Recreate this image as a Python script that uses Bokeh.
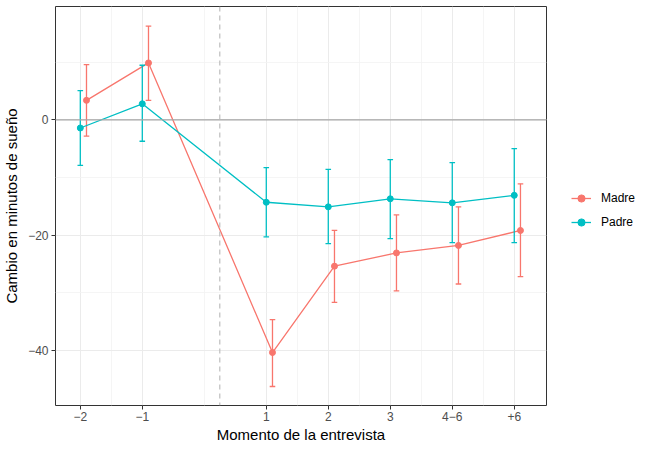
from bokeh.plotting import figure
from bokeh.models import FixedTicker, Legend, LegendItem, Span, Range1d, ColumnDataSource
from bokeh.embed import file_html
from bokeh.resources import INLINE

# Data
moments = ["\u22122", "\u22121", "1", "2", "3", "4\u22126", "+6"]
moment_pos = [-2, -1, 1, 2, 3, 4, 5]

madre_mean = [3.4, 9.9, -40.4, -25.4, -23.1, -21.8, -19.2]
madre_lo = [-2.8, 3.4, -46.3, -31.7, -29.7, -28.5, -27.2]
madre_hi = [9.6, 16.3, -34.7, -19.2, -16.5, -15.1, -11.1]

padre_mean = [-1.4, 2.8, -14.3, -15.1, -13.7, -14.4, -13.1]
padre_lo = [-7.9, -3.7, -20.3, -21.5, -20.6, -21.3, -21.3]
padre_hi = [5.1, 9.5, -8.3, -8.6, -6.9, -7.4, -5.0]

MADRE = "#F8766D"
PADRE = "#00BFC4"
FONT = "Liberation Sans"

p = figure(frame_width=491, frame_height=399, output_backend="svg", toolbar_location=None,
           x_range=Range1d(-2.40, 5.52), y_range=Range1d(-49.6, 19.7))
p.min_border_left = 54
p.min_border_right = 105
p.min_border_top = 6
p.min_border_bottom = 45
p.background_fill_color = "white"
p.border_fill_color = "white"
p.outline_line_color = "#333333"
p.outline_line_width = 1

# Grid
p.xaxis.ticker = FixedTicker(ticks=moment_pos, minor_ticks=[-1.5, 0, 1.5, 2.5, 3.5, 4.5])
p.yaxis.ticker = FixedTicker(ticks=[-40, -20, 0], minor_ticks=[-50, -30, -10, 10])
p.xaxis.major_label_overrides = {k: v for k, v in zip(moment_pos, moments)}
p.yaxis.major_label_overrides = {-40: "\u221240", -20: "\u221220", 0: "0"}
for g in (p.xgrid, p.ygrid):
    g.grid_line_color = "#EBEBEB"
    g.grid_line_width = 1
    g.minor_grid_line_color = "#F2F2F2"
    g.minor_grid_line_width = 0.8

for ax in (p.xaxis, p.yaxis):
    ax.axis_line_color = None
    ax.major_tick_line_color = "#333333"
    ax.major_tick_out = 4
    ax.major_tick_in = 0
    ax.minor_tick_line_color = None
    ax.major_label_text_font = FONT
    ax.major_label_text_font_size = "12px"
    ax.major_label_text_color = "#4D4D4D"
    ax.axis_label_text_font = FONT
    ax.axis_label_text_font_size = "15px"
    ax.axis_label_text_font_style = "normal"
    ax.axis_label_text_color = "black"

p.xaxis.axis_label = "Momento de la entrevista"
p.yaxis.axis_label = "Cambio en minutos de sueño"
p.xaxis.major_label_standoff = 2
p.yaxis.major_label_standoff = 3
p.xaxis.axis_label_standoff = 2
p.yaxis.axis_label_standoff = 5

# Reference lines
p.add_layout(Span(location=0, dimension="width", line_color="#A6A6A6", line_width=1.2))
p.add_layout(Span(location=0.25, dimension="height", line_color="#BDBDBD", line_width=1.2,
                  line_dash="5 4"))

dodge = {"Madre": 0.1, "Padre": 0.0}
cap = 0.045
items = []
for name, mean, lo, hi, col in (("Madre", madre_mean, madre_lo, madre_hi, MADRE),
                                ("Padre", padre_mean, padre_lo, padre_hi, PADRE)):
    xs = [x + dodge[name] for x in moment_pos]
    src = ColumnDataSource(dict(x=xs, y=mean, lo=lo, hi=hi,
                                x0=[x - cap for x in xs], x1=[x + cap for x in xs]))
    p.segment(x0="x", x1="x", y0="lo", y1="hi", source=src, line_color=col, line_width=1.3)
    p.segment(x0="x0", x1="x1", y0="lo", y1="lo", source=src, line_color=col, line_width=1.3)
    p.segment(x0="x0", x1="x1", y0="hi", y1="hi", source=src, line_color=col, line_width=1.3)
    l = p.line("x", "y", source=src, line_color=col, line_width=1.3)
    s = p.scatter("x", "y", source=src, size=6, fill_color=col, line_color=col)
    items.append(LegendItem(label=name, renderers=[l, s]))

legend = Legend(items=items, location=(25, 174), border_line_color=None,
                background_fill_alpha=0, label_text_font=FONT, label_text_font_size="12px",
                label_text_color="black", glyph_width=20, glyph_height=18, label_standoff=10,
                spacing=6, padding=0, margin=0)
p.add_layout(legend, "right")

open("out.html", "w").write(file_html(p, INLINE))
